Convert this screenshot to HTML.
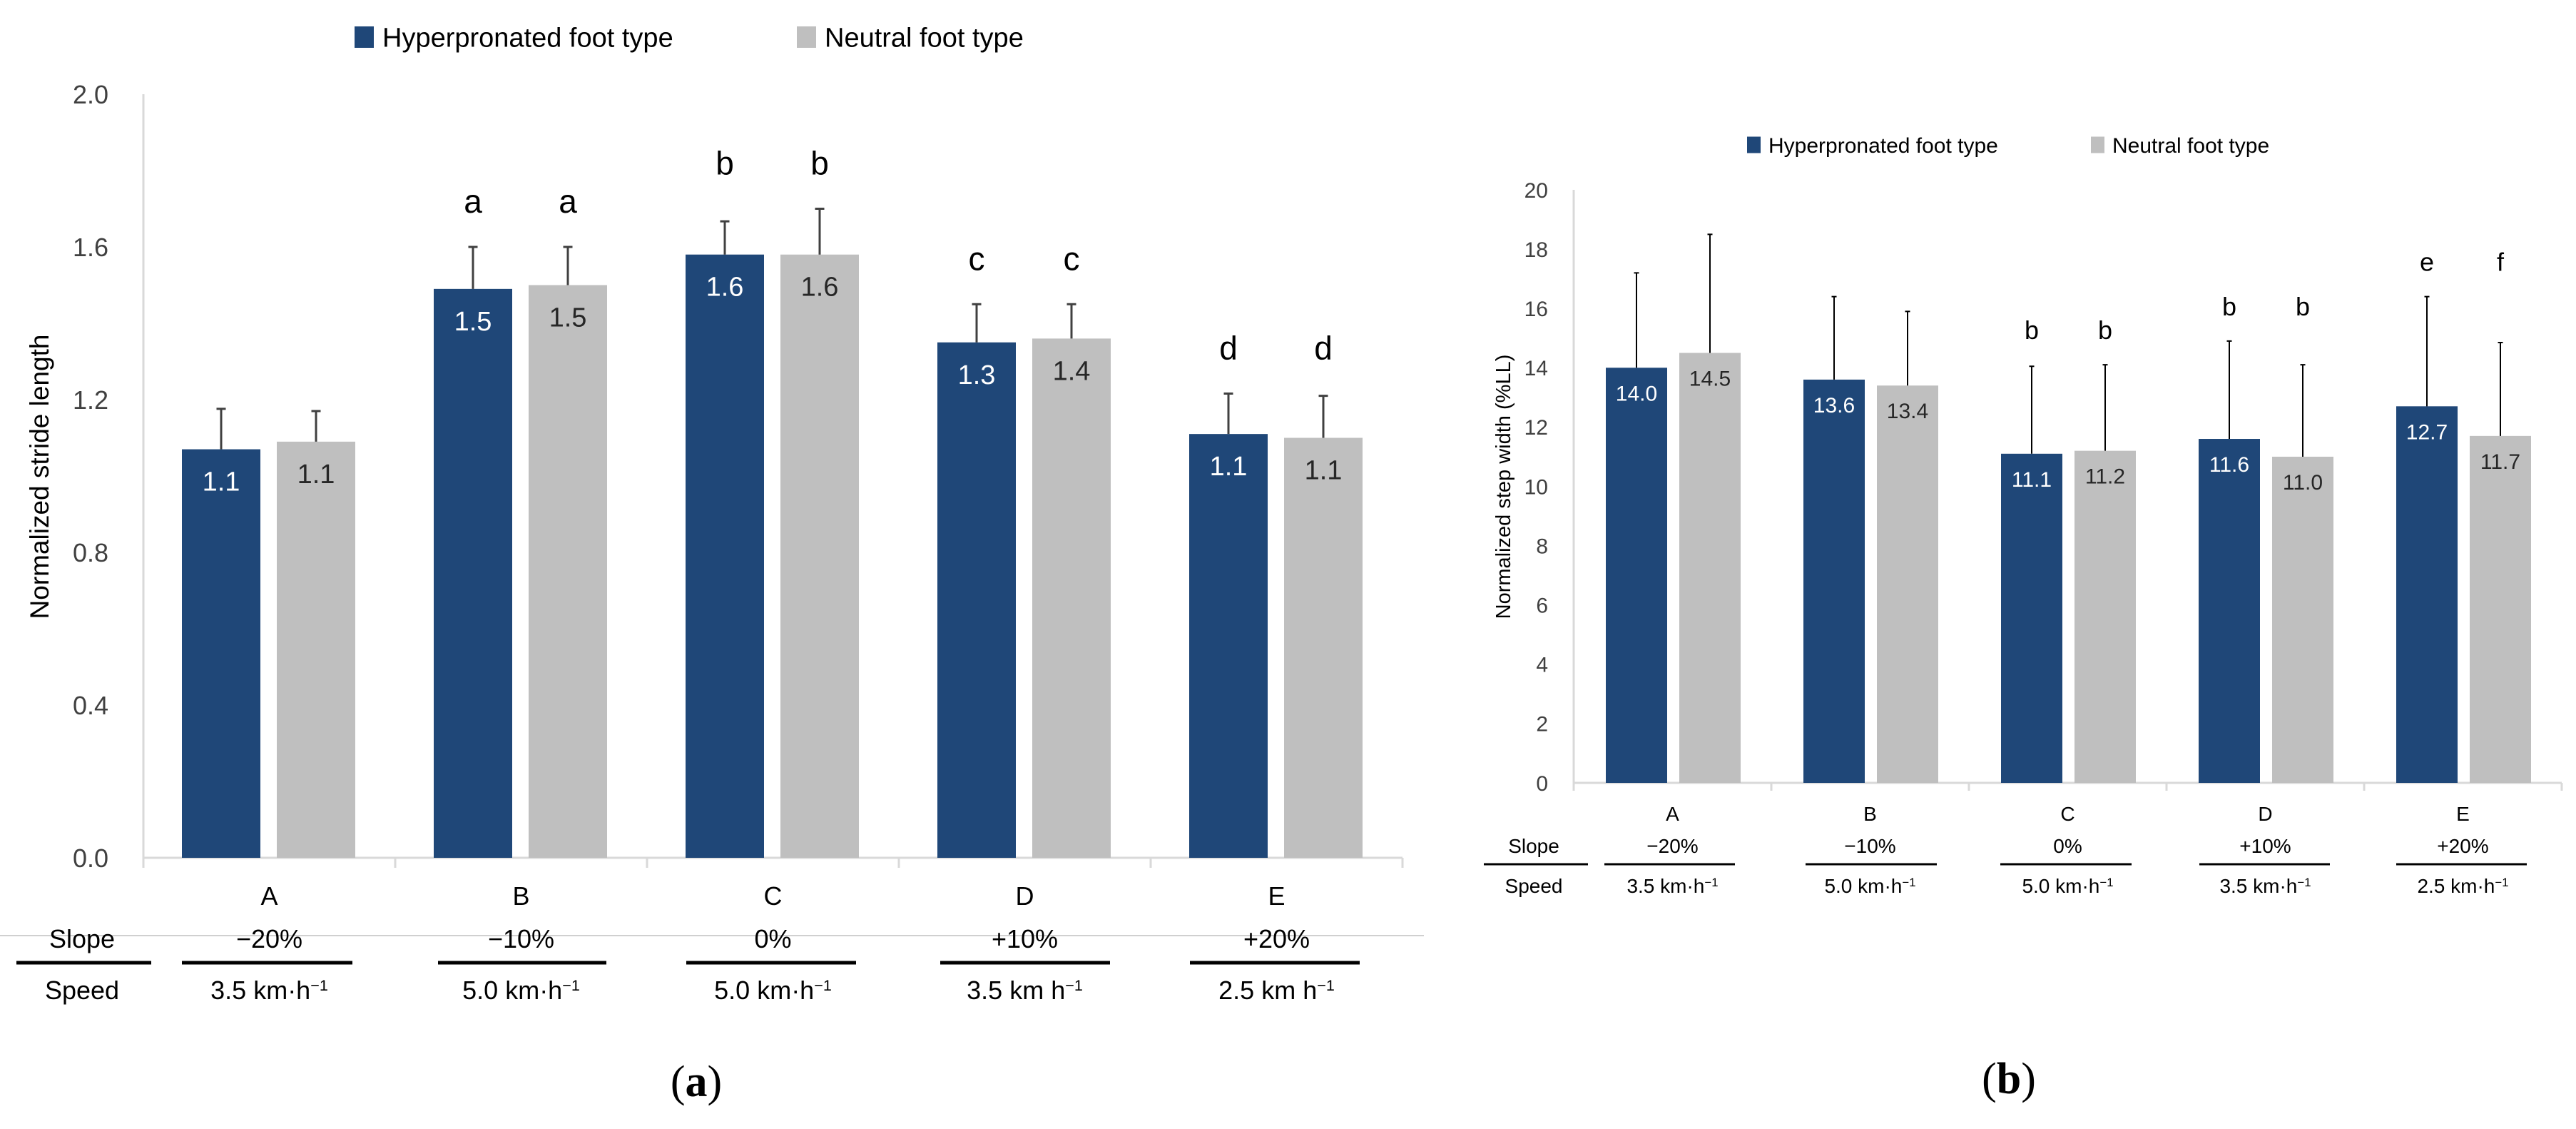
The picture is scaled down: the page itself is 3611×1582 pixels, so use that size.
<!DOCTYPE html>
<html><head><meta charset="utf-8"><style>
html,body{margin:0;padding:0;background:#fff;}
svg{display:block;font-family:"Liberation Sans",sans-serif;}
</style></head><body>
<svg id="fig" width="3611" height="1582" viewBox="0 0 3611 1582" xmlns="http://www.w3.org/2000/svg">
<rect width="3611" height="1582" fill="#fff"/>
<g id="chartA"></g>
<g id="chartB"></g>
</svg>
<script>
const categories = ['A','B','C','D','E'];
const slopes = ['\u221220%','\u221210%','0%','+10%','+20%'];
const speedsA = ['3.5 km\u00b7h','5.0 km\u00b7h','5.0 km\u00b7h','3.5 km h','2.5 km h'];
const speedsB = ['3.5 km\u00b7h','5.0 km\u00b7h','5.0 km\u00b7h','3.5 km\u00b7h','2.5 km\u00b7h'];
const hyperA = [1.07,1.49,1.58,1.35,1.11];
const neutA = [1.09,1.50,1.58,1.36,1.10];
const hyperAErr = [0.106,0.11,0.087,0.10,0.106];
const neutAErr = [0.08,0.10,0.12,0.09,0.11];
const hyperALabels = ['1.1','1.5','1.6','1.3','1.1'];
const neutALabels = ['1.1','1.5','1.6','1.4','1.1'];
const hyperALetters = ['','a','b','c','d'];
const neutALetters = ['','a','b','c','d'];
const ticksA = [0,0.4,0.8,1.2,1.6,2.0];
const tickLabelsA = ['0.0','0.4','0.8','1.2','1.6','2.0'];
const hyperB = [14.0,13.6,11.1,11.6,12.7];
const neutB = [14.5,13.4,11.2,11.0,11.7];
const hyperBErr = [3.2,2.8,2.95,3.3,3.7];
const neutBErr = [4.0,2.5,2.9,3.1,3.15];
const hyperBLetters = ['','','b','b','e'];
const neutBLetters = ['','','b','b','f'];
const ticksB = [0,2,4,6,8,10,12,14,16,18,20];
const tickLabelsB = ['0','2','4','6','8','10','12','14','16','18','20'];

const NS='http://www.w3.org/2000/svg';
function mk(parent,tag,attrs,text){
  const e=document.createElementNS(NS,tag);
  for(const k in attrs) e.setAttribute(k,attrs[k]);
  if(text!==undefined) e.textContent=text;
  parent.appendChild(e);
  return e;
}
const NAVY='#1f4778', GRAY='#bfbfbf';

function draw(g,L,hy,ne,hyE,neE,hyLab,neLab,hyLet,neLet,ticks,tickLabels,speeds){
  const y=v=>L.y0-v*L.ppu;
  const xc=i=>L.left+i*L.catW;
  // axes
  const ax=mk(g,'line',{x1:L.left,y1:y(ticks[ticks.length-1]),x2:L.left,y2:L.y0,stroke:'#d9d9d9','stroke-width':3});
  
  
  const xa=mk(g,'line',{x1:L.left,y1:L.y0,x2:L.left+5*L.catW,y2:L.y0,stroke:'#d9d9d9','stroke-width':3});
  
  
  for(let i=0;i<=5;i++){
    const t=mk(g,'line',{x1:xc(i),y1:L.y0,x2:xc(i),y2:L.y0+L.tickLen,stroke:'#d9d9d9','stroke-width':3});
    
    
  }
  ticks.forEach((v,i)=>{
    const t=mk(g,'text',{x:L.tickX,y:y(v)+L.tickFs*0.36,'text-anchor':'end','font-size':L.tickFs,fill:'#404040'},tickLabels[i]);
    
    
  });
  const yt=mk(g,'text',{x:0,y:0,transform:`translate(${L.ytX},${L.ytY}) rotate(-90)`,'text-anchor':'middle','font-size':L.ytFs,fill:'#000'},L.yTitle);
  
  
  // legend
  const lg=mk(g,'g',{});
  
  
  L.legend.forEach(le=>{
    const r=mk(lg,'rect',{x:le.x,y:L.legY-le.h/2,width:le.w,height:le.h,fill:le.c});
    
    
    const t=mk(lg,'text',{x:le.x+le.w+L.legGap,y:L.legY+L.legFs*0.36,'font-size':L.legFs,fill:'#000'},le.t);
    
    
  });
  for(let i=0;i<5;i++){
    const series=[[hy,hyE,hyLab,hyLet,NAVY,L.hOff,'#fff','hyper'],[ne,neE,neLab,neLet,GRAY,L.nOff,'#262626','neutral']];
    const tops=[y(hy[i]+hyE[i]),y(ne[i]+neE[i])];
    const letterY=Math.min(tops[0],tops[1])-L.letterOff;
    series.forEach(s=>{
      const v=s[0][i], x0=xc(i)+s[5];
      const b=mk(g,'rect',{x:x0,y:y(v),width:L.barW,height:L.y0-y(v),fill:s[4]});
      
      
      const cx=x0+L.barW/2, et=y(v+s[1][i]);
      const e=mk(g,'path',{d:`M${cx},${y(v)}V${et}M${cx-L.cap/2},${et}H${cx+L.cap/2}`,stroke:L.errC,'stroke-width':L.errW,fill:'none'});
      
      
      const lb=mk(g,'text',{x:cx,y:y(v)+L.labOff,'text-anchor':'middle','font-size':L.labFs,fill:s[6]},s[2]?s[2][i]:v.toFixed(1));
      
      
      if(s[3][i]){
        const lt=mk(g,'text',{x:cx,y:letterY,'text-anchor':'middle','font-size':L.letFs,fill:'#000'},s[3][i]);
        
        
      }
    });
    const mid=xc(i)+L.catW/2-L.shift;
    const cl=mk(g,'text',{x:mid,y:L.catY,'text-anchor':'middle','font-size':L.rowFs,fill:'#000'},categories[i]);
    
    
    const sl=mk(g,'text',{x:mid,y:L.slopeY,'text-anchor':'middle','font-size':L.rowFs,fill:'#000'},slopes[i]);
    
    
    const ul=mk(g,'line',{x1:L.ulX[i][0],y1:L.ulY,x2:L.ulX[i][1],y2:L.ulY,stroke:'#000','stroke-width':L.ulW});
    
    
    const sp=mk(g,'text',{x:mid,y:L.speedY,'text-anchor':'middle','font-size':L.rowFs,fill:'#000'},speeds[i]);
    
    
    mk(sp,'tspan',{'baseline-shift':'super','font-size':L.rowFs*0.6},'\u22121');
  }
  const s1=mk(g,'text',{x:L.rowLabX,y:L.slopeY,'text-anchor':'middle','font-size':L.rowFs,fill:'#000'},'Slope');
  
  
  const s2=mk(g,'text',{x:L.rowLabX,y:L.speedY,'text-anchor':'middle','font-size':L.rowFs,fill:'#000'},'Speed');
  
  
  const ul0=mk(g,'line',{x1:L.ul0[0],y1:L.ulY,x2:L.ul0[1],y2:L.ulY,stroke:'#000','stroke-width':L.ulW});
  
  
  const cap=mk(g,'text',{x:L.capX,y:L.capY,'text-anchor':'middle','font-size':62,'font-family':'Liberation Serif, serif',fill:'#000'});
  
  
  mk(cap,'tspan',{},'(');
  mk(cap,'tspan',{'font-weight':'bold'},L.caption);
  mk(cap,'tspan',{},')');
}

const gA=document.getElementById('chartA');
// faint slope line in panel (a)
const fl=mk(gA,'line',{x1:0,y1:1311,x2:1996,y2:1311,stroke:'#d0d0d0','stroke-width':2});


draw(gA,{y0:1202,ppu:535,left:201,catW:353,barW:110,hOff:54,nOff:187,tickLen:14,tickX:152,tickFs:36,
  yTitle:'Normalized stride length',ytX:68,ytY:668,ytFs:37,
  legY:52,legFs:38,legGap:12,legend:[{x:497,w:27,h:30,c:NAVY,t:'Hyperpronated foot type'},{x:1117,w:27,h:30,c:GRAY,t:'Neutral foot type'}],
  cap:13,errC:'#404040',errW:3,labOff:58,labFs:38,letFs:46,letterOff:48,
  catY:1268,slopeY:1328,speedY:1400,rowFs:36,shift:0,ulY:1349,ulW:5,
  ulX:[[255,494],[614,850],[962,1200],[1318,1556],[1668,1906]],ul0:[23,212],rowLabX:115,
  capX:976,capY:1536,caption:'a'},
  hyperA,neutA,hyperAErr,neutAErr,hyperALabels,neutALabels,hyperALetters,neutALetters,ticksA,tickLabelsA,speedsA);

const gB=document.getElementById('chartB');
draw(gB,{y0:1097,ppu:41.55,left:2206,catW:277,barW:86,hOff:45,nOff:148,tickLen:11,tickX:2170,tickFs:30,
  yTitle:'Normalized step width (%LL)',ytX:2117,ytY:682,ytFs:29,
  legY:203,legFs:30,legGap:11,legend:[{x:2449,w:19,h:23,c:NAVY,t:'Hyperpronated foot type'},{x:2931,w:19,h:23,c:GRAY,t:'Neutral foot type'}],
  cap:7,errC:'#000',errW:2,labOff:46,labFs:30,letFs:36,letterOff:36,
  catY:1150,slopeY:1195,speedY:1251,rowFs:28,shift:0,ulY:1211,ulW:3,
  ulX:[[2249,2432],[2531,2715],[2804,2988],[3083,3266],[3359,3542]],ul0:[2080,2226],rowLabX:2150,
  capX:2816,capY:1532,caption:'b'},
  hyperB,neutB,hyperBErr,neutBErr,null,null,hyperBLetters,neutBLetters,ticksB,tickLabelsB,speedsB);
</script>
</body></html>
